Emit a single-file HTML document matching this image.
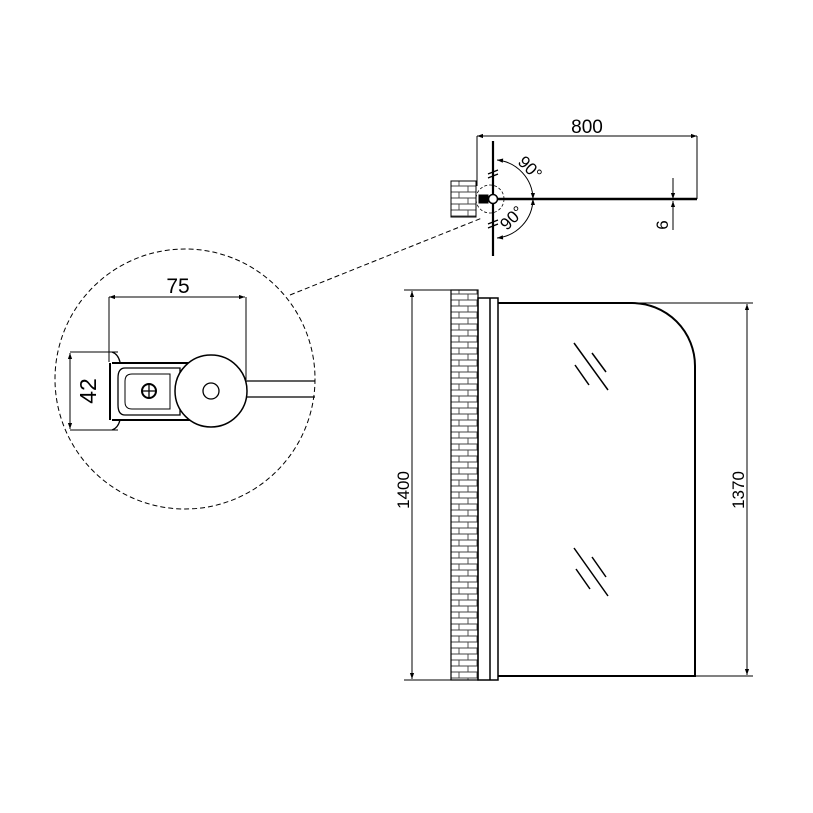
<!DOCTYPE html>
<html><head><style>body{margin:0;background:#fff}svg{display:block}</style></head><body>
<svg width="813" height="813" viewBox="0 0 813 813" xmlns="http://www.w3.org/2000/svg" font-family="Liberation Sans, sans-serif">
<defs>
<pattern id="br" width="18" height="12" patternUnits="userSpaceOnUse">
<rect width="18" height="12" fill="#fff"/>
<path d="M0 0H18M0 6H18M0 12H18M9 0V6M0 6V12M18 6V12" stroke="#444" stroke-width="0.9" fill="none"/>
</pattern>
<marker id="a" viewBox="0 0 10 10" refX="10" refY="5" markerWidth="10" markerHeight="6" orient="auto-start-reverse" markerUnits="userSpaceOnUse"><path d="M0 1.5L10 5L0 8.5z" fill="#000"/></marker>
</defs>
<g stroke="#000" fill="none">
<rect x="451" y="181" width="25" height="36" fill="url(#br)" stroke-width="1"/>
<line x1="477" y1="136" x2="477" y2="186" stroke-width="1"/>
<line x1="697" y1="136" x2="697" y2="199" stroke-width="1"/>
<line x1="477" y1="136" x2="697" y2="136" stroke-width="1" marker-start="url(#a)" marker-end="url(#a)"/>
<line x1="493" y1="141" x2="493" y2="256" stroke-width="2.2"/>
<line x1="493" y1="199" x2="697" y2="199" stroke-width="2.5"/>
<path d="M488 174l10-4M488 178l10-4M488 224l10-4M488 228l10-4" stroke-width="1.3"/>
<path d="M497 160 A40 40 0 0 1 533 199" stroke-width="1" marker-start="url(#a)" marker-end="url(#a)"/>
<path d="M533 199 A40 40 0 0 1 497 238" stroke-width="1" marker-start="url(#a)" marker-end="url(#a)"/>
<circle cx="490" cy="199" r="14" stroke-width="0.8" stroke-dasharray="3 2"/>
<rect x="479" y="195" width="9" height="8" fill="#000"/>
<circle cx="493" cy="199" r="4.5" fill="#fff" stroke-width="1.5"/>
<line x1="673" y1="178" x2="673" y2="199" stroke-width="1" marker-end="url(#a)"/>
<line x1="673" y1="230" x2="673" y2="201" stroke-width="1" marker-end="url(#a)"/>
<line x1="290" y1="295" x2="482" y2="218" stroke-width="1" stroke-dasharray="5 3"/>
<circle cx="185" cy="379" r="130" stroke-width="1" stroke-dasharray="5 3"/>
<line x1="109" y1="297" x2="245" y2="297" stroke-width="1" marker-start="url(#a)" marker-end="url(#a)"/>
<line x1="109" y1="297" x2="109" y2="362" stroke-width="1"/>
<line x1="246" y1="297" x2="246" y2="380" stroke-width="1"/>
<line x1="70" y1="352" x2="118" y2="352" stroke-width="1"/>
<line x1="70" y1="430" x2="118" y2="430" stroke-width="1"/>
<line x1="70" y1="353" x2="70" y2="429" stroke-width="1" marker-start="url(#a)" marker-end="url(#a)"/>
<path d="M112 363H190M112 420H190M110 363V420" stroke-width="2"/>
<path d="M112 352q6 2 8 10M112 430q6-2 8-10" stroke-width="1.3"/>
<path d="M125 368H180V415H125Q118 415 118 405V378Q118 368 125 368Z" stroke-width="1.3"/>
<path d="M132 374H170V409H132Q125 409 125 402V381Q125 374 132 374Z" stroke-width="1"/>
<circle cx="149" cy="391" r="7" stroke-width="2"/>
<path d="M142 391H156M149 384V398" stroke-width="1.3"/>
<path d="M246 381H315M246 397H315" stroke-width="1.3"/>
<circle cx="211" cy="391" r="36" fill="#fff" stroke-width="1.5"/>
<circle cx="211" cy="391" r="8" stroke-width="1.3"/>
<rect x="451" y="290" width="27" height="390" fill="url(#br)" stroke-width="1.2"/>
<line x1="404" y1="290" x2="451" y2="290" stroke-width="1"/>
<line x1="404" y1="680" x2="451" y2="680" stroke-width="1"/>
<line x1="412" y1="291" x2="412" y2="679" stroke-width="1" marker-start="url(#a)" marker-end="url(#a)"/>
<path d="M478 298H498V680H478Z" stroke-width="1.5"/>
<line x1="490" y1="298" x2="490" y2="680" stroke-width="1.5"/>
<path d="M498 303H632A63 63 0 0 1 695 366V676H498" stroke-width="2"/>
<line x1="632" y1="303" x2="753" y2="303" stroke-width="1"/>
<line x1="695" y1="676" x2="753" y2="676" stroke-width="1"/>
<line x1="747" y1="304" x2="747" y2="675" stroke-width="1" marker-start="url(#a)" marker-end="url(#a)"/>
<path d="M574 343L608 390M575 365L589 385M592 353L606 372M574 548L608 596M576 569L590 589M592 557L606 577" stroke-width="1.5"/>
</g>
<g font-size="19" fill="#000">
<text x="587" y="133" text-anchor="middle">800</text>
<text x="178" y="293" text-anchor="middle" font-size="21">75</text>
<text transform="translate(96 391) rotate(-90)" text-anchor="middle" font-size="23">42</text>
<text transform="translate(409 490) rotate(-90)" text-anchor="middle" font-size="17">1400</text>
<text transform="translate(744 490) rotate(-90)" text-anchor="middle" font-size="17">1370</text>
<text transform="translate(668 225) rotate(-90)" text-anchor="middle" font-size="17">6</text>
<text transform="translate(526 172) rotate(45)" text-anchor="middle" font-size="17">90°</text>
<text transform="translate(516 222) rotate(-45)" text-anchor="middle" font-size="17">90°</text>
</g>
</svg>
</body></html>
